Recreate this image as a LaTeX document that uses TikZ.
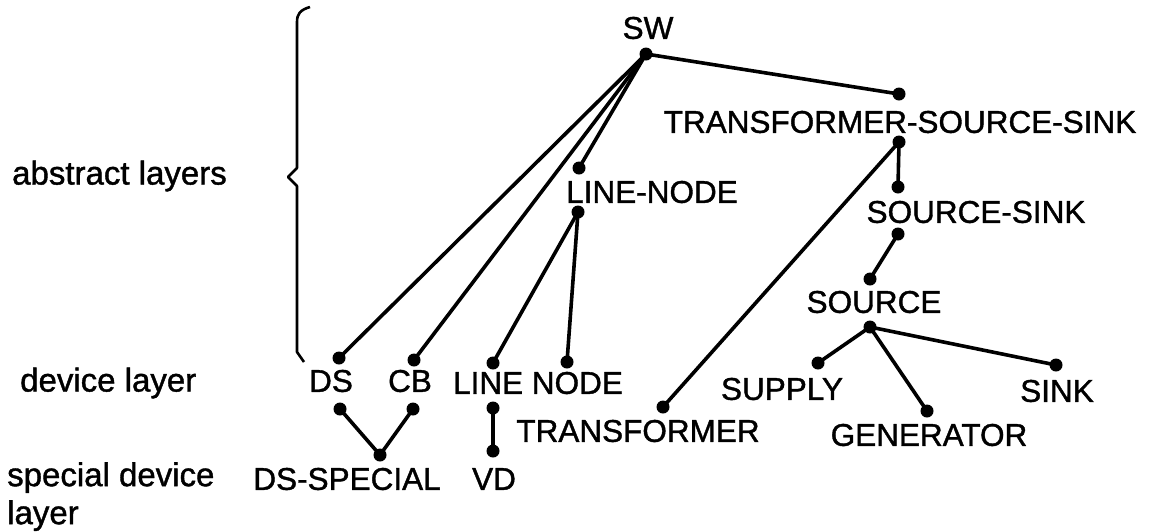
\documentclass[tikz,border=0pt]{standalone}
\usepackage{fontspec}
\setmainfont{Liberation Sans}
\newfontfamily\lblfont[BoldFont=Liberation Sans,BoldFeatures={FakeBold=1.2}]{Liberation Sans}
\begin{document}
\begin{tikzpicture}[x=1pt,y=-1pt,
  dot/.style={circle,fill=black,inner sep=0pt,minimum size=13pt},
  lbl/.style={inner sep=0pt,font=\lblfont\bfseries\fontsize{31.5}{36}\selectfont},
  side/.style={inner sep=0pt,font=\lblfont\bfseries\fontsize{33}{38}\selectfont,align=left},
  edge/.style={line width=3.6pt,line cap=round},
  bracestyle/.style={line width=2.6pt,line join=round}]
\useasboundingbox (0,0) rectangle (1159,531);
% text labels
\node[lbl] (swt) at (648,28) {SW};
\node[lbl] (tsst) at (900,122) {TRANSFORMER-SOURCE-SINK};
\node[lbl] (sst) at (976,212) {SOURCE-SINK};
\node[lbl] (srct) at (874,302) {SOURCE};
\node[lbl] (supt) at (782,389) {SUPPLY};
\node[lbl] (gent) at (929,435) {GENERATOR};
\node[lbl] (sinkt) at (1057,391) {SINK};
\node[lbl] (lnt) at (652,192) {LINE-NODE};
\node[lbl] (dst) at (331,381) {DS};
\node[lbl] (cbt) at (410,381) {CB};
\node[lbl] (linenodet) at (538,383) {LINE NODE};
\node[lbl] (dsst) at (347,479) {DS-SPECIAL};
\node[lbl] (vdt) at (494,479) {VD};
\node[lbl] (trt) at (638,431) {TRANSFORMER};
\node[side,anchor=west] (abs) at (12,176) {abstract layers};
\node[side,anchor=west] (dev) at (20,383) {device layer};
\node[side,anchor=north west] (spec) at (7,462) {special device\\layer};
% dots
\node[dot] (sw) at (646,54) {};
\node[dot] (tss1) at (899,94) {};
\node[dot] (tss2) at (899,142) {};
\node[dot] (ss1) at (898,187) {};
\node[dot] (ss2) at (898,234) {};
\node[dot] (src1) at (870,279) {};
\node[dot] (src2) at (870,327) {};
\node[dot] (sup) at (818,363) {};
\node[dot] (gen) at (927,411) {};
\node[dot] (sink) at (1056,365) {};
\node[dot] (ln1) at (579,168) {};
\node[dot] (ln2) at (578,212) {};
\node[dot] (ds1) at (339,358) {};
\node[dot] (ds2) at (340,409) {};
\node[dot] (cb1) at (414,360) {};
\node[dot] (cb2) at (413,409) {};
\node[dot] (line1) at (493,363) {};
\node[dot] (line2) at (493,408) {};
\node[dot] (node1) at (567,362) {};
\node[dot] (dss) at (380,455) {};
\node[dot] (vd) at (493,451) {};
\node[dot] (tr) at (663,407) {};
% connectors
\draw[edge] (sw.center) -- (ds1.center);
\draw[edge] (sw.center) -- (cb1.center);
\draw[edge] (sw.center) -- (ln1.center);
\draw[edge] (sw.center) -- (tss1.center);
\draw[edge] (ln2.center) -- (line1.center);
\draw[edge] (ln2.center) -- (node1.center);
\draw[edge] (tss2.center) -- (ss1.center);
\draw[edge] (tss2.center) -- (tr.center);
\draw[edge] (ss2.center) -- (src1.center);
\draw[edge] (src2.center) -- (sup.center);
\draw[edge] (src2.center) -- (gen.center);
\draw[edge] (src2.center) -- (sink.center);
\draw[edge] (ds2.center) -- (dss.center);
\draw[edge] (cb2.center) -- (dss.center);
\draw[edge] (line2.center) -- (vd.center);
% brace
\coordinate (btop) at (310,7);
\coordinate (btip) at (288,177);
\coordinate (bbot) at (304,362);
\draw[bracestyle] (btop) .. controls (300,10) and (297,14) .. (297,22)
  -- (297,168) -- (btip) -- (297,186) -- (297,352) -- (bbot);
\end{tikzpicture}
\end{document}
